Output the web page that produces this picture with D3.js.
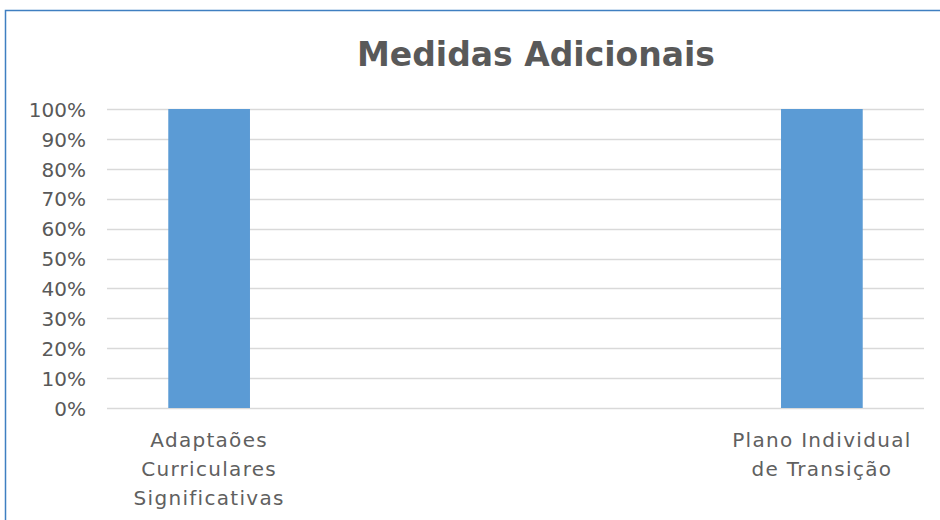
<!DOCTYPE html>
<html>
<head>
<meta charset="utf-8">
<script src="https://cdn.jsdelivr.net/npm/d3@7"></script>
<style>
  body { margin: 0; background: #fff; }
  svg { display: block; }
  text { font-family: "Century Gothic", "DejaVu Sans", sans-serif; fill: #595959; }
</style>
</head>
<body>
<div id="chart"></div>
<script>
// chart data
const title = "Medidas Adicionais";
const categories = [
  ["Adaptaões", "Curriculares", "Significativas"],
  [],
  [],
  ["Plano Individual", "de Transição"]
];
const values = [100, 0, 0, 100];
const ticks = [0, 10, 20, 30, 40, 50, 60, 70, 80, 90, 100];

var width = 940,
    height = 520;

var margin = {left: 107, right: 16, top: 109, bottom: 112};

var fontStack = "\"Century Gothic\", \"DejaVu Sans\", sans-serif";

var svg = d3.select("#chart").append("svg")
  .attr("width", width)
  .attr("height", height);

// chart frame (only left and top edges visible in the crop)
svg.append("rect")
  .attr("x", 5.5)
  .attr("y", 10.5)
  .attr("width", 1100)
  .attr("height", 600)
  .attr("fill", "none")
  .attr("stroke", "#3f7fc1")
  .attr("stroke-width", 1.5);

svg.append("text")
  .attr("x", 536)
  .attr("y", 66)
  .attr("text-anchor", "middle")
  .style("font-size", "33px")
  .style("font-weight", "bold")
  .text(title);

var x = d3.scaleBand()
  .domain(d3.range(categories.length))
  .range([margin.left, width - margin.right])
  .paddingInner(0.6)
  .paddingOuter(0.3);

var y = d3.scaleLinear()
  .domain([0, 100])
  .range([height - margin.bottom, margin.top]);

// gridlines
svg.append("g")
  .selectAll("line")
  .data(ticks)
  .join("line")
  .attr("x1", margin.left)
  .attr("x2", width - margin.right)
  .attr("y1", d => Math.round(y(d)) + 0.5)
  .attr("y2", d => Math.round(y(d)) + 0.5)
  .attr("stroke", "#d9d9d9")
  .attr("stroke-width", 1.5);

// y axis labels
var yAxis = d3.axisLeft(y)
  .tickValues(ticks)
  .tickFormat(d => d + "%")
  .tickSize(0)
  .tickPadding(0);

svg.append("g")
  .attr("transform", "translate(86,0)")
  .call(yAxis)
  .call(g => g.select(".domain").remove())
  .selectAll("text")
  .attr("fill", "#606060")
  .attr("dy", "0.36em")
  .style("font-family", fontStack)
  .style("font-size", "20px");

// bars
svg.append("g")
  .selectAll("rect")
  .data(values)
  .join("rect")
  .attr("x", (d, i) => x(i))
  .attr("y", d => y(d))
  .attr("width", x.bandwidth())
  .attr("height", d => y(0) - y(d))
  .attr("fill", "#5b9bd5");

// category labels
var catG = svg.append("g")
  .selectAll("text")
  .data(categories)
  .join("text")
  .attr("text-anchor", "middle")
  .style("font-size", "20px")
  .style("letter-spacing", "1.3px")
  .style("fill", "#606060")
  .attr("transform", (d, i) => "translate(" + (x(i) + x.bandwidth() / 2) + ",447)");

catG.selectAll("tspan")
  .data(d => d)
  .join("tspan")
  .attr("x", 0)
  .attr("y", (d, i) => i * 29)
  .text(d => d);
</script>
</body>
</html>
